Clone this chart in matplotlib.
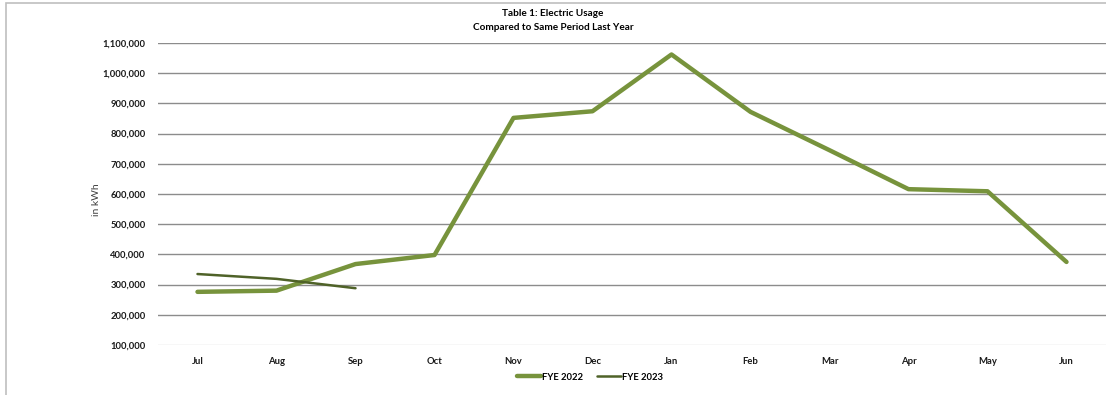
import matplotlib.pyplot as plt
from matplotlib.ticker import FuncFormatter
from matplotlib.patches import Rectangle

plt.rcParams['font.family'] = ['Lato', 'DejaVu Sans']

months = ['Jul', 'Aug', 'Sep', 'Oct', 'Nov', 'Dec', 'Jan', 'Feb', 'Mar', 'Apr', 'May', 'Jun']
fye2022 = [276000, 280000, 368000, 398000, 852000, 874000, 1062000, 872000, 745000, 616000, 609000, 375000]
fye2023 = [335000, 319000, 288000]

fig = plt.figure(figsize=(11.06, 3.95), dpi=100)
ax = fig.add_axes([158 / 1106, 1 - 345 / 395, 1 - 158 / 1106, (345 - 43) / 395])

x = list(range(len(months)))
ax.plot(x, fye2022, color='#77933C', lw=3.2, solid_capstyle='round', label='FYE 2022', zorder=3)
ax.plot(x[:len(fye2023)], fye2023, color='#4F6228', lw=1.8, solid_capstyle='round', label='FYE 2023', zorder=4)

ax.set_xlim(-0.5, len(months) - 0.5)
ax.set_ylim(100000, 1100000)
ax.set_yticks(range(100000, 1100001, 100000))
ax.yaxis.set_major_formatter(FuncFormatter(lambda v, p: f'{int(v):,}'))
ax.set_xticks(x)
ax.set_xticklabels(months)
ax.grid(axis='y', color='#8c8c8c', lw=1)
ax.set_axisbelow(True)
for s in ax.spines.values():
    s.set_visible(False)
ax.tick_params(length=0, labelsize=6.8, colors='#1a1a1a')
ax.tick_params(axis='y', pad=9)
ax.tick_params(axis='x', pad=9)
for t in ax.get_xticklabels() + ax.get_yticklabels():
    t.set_fontweight('bold')
ax.get_ygridlines()[0].set_color('#d9d9d9')

fig.text(97 / 1106, 1 - 200 / 395, 'in kWh', rotation=90, ha='center', va='center', fontsize=7.5, color='#404040')
fig.text(0.5, 1 - 13 / 395, 'Table 1: Electric Usage', ha='center', va='center', fontsize=7.2, fontweight='bold')
fig.text(0.5, 1 - 27 / 395, 'Compared to Same Period Last Year', ha='center', va='center', fontsize=7.2, fontweight='bold')

leg = fig.legend(loc='center', bbox_to_anchor=(590 / 1106, 1 - 377 / 395), ncol=2, frameon=False,
                 fontsize=6.8, handlelength=2.5, handletextpad=0.1, columnspacing=1.5)
for t in leg.get_texts():
    t.set_fontweight('bold')

fig.patches.append(Rectangle((6 / 1106, -0.1), 1.2, 1 - 3 / 395 + 0.1, transform=fig.transFigure,
                             fill=False, edgecolor='#bfbfbf', lw=1.2))

fig.savefig('out.png', dpi=100)
